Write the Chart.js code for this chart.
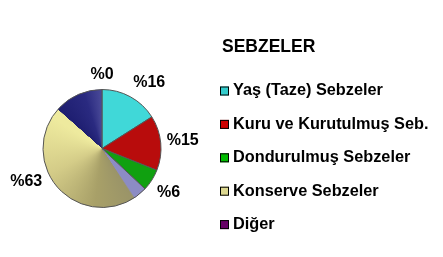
<!DOCTYPE html>
<html>
<head>
<meta charset="utf-8">
<script src="https://cdn.jsdelivr.net/npm/chart.js@4"></script>
<style>
  html, body { margin: 0; padding: 0; background: #fff; }
  #wrap { width: 443px; height: 257px; }
</style>
</head>
<body>
<div id="wrap"><canvas id="pie" width="443" height="257"></canvas></div>
<script>
// Dati
const chartTitle = 'SEBZELER';
const categories = ['Yaş (Taze) Sebzeler', 'Kuru ve Kurutulmuş Seb.', 'Dondurulmuş Sebzeler', 'Konserve Sebzeler', 'Diğer'];
const shares = [16, 15, 6, 63, 0];
const legendColors = ['#33CCCC', '#CC0000', '#00BB00', '#DDD890', '#660066'];
const sliceColors = ['#40D8D8', '#B80C0C', '#10A010', '#C8C080', '#660066'];

// konserve: sfumatura conica come nel grafico originale (blu scuro in alto a sinistra)
function sliceFill(ctx) {
    const i = ctx.dataIndex;
    const chart = ctx.chart;
    const area = chart.chartArea;
    if (i !== 3 || !area || !chart.ctx.createConicGradient) return sliceColors[i];
    const cx = (area.left + area.right) / 2;
    const cy = (area.top + area.bottom) / 2;
    const g = chart.ctx.createConicGradient(-Math.PI / 2, cx, cy);
    g.addColorStop(0.37, '#8C8CC4');
    g.addColorStop(0.405, '#8C8CC4');
    g.addColorStop(0.41, '#9A9468');
    g.addColorStop(0.52, '#A8A068');
    g.addColorStop(0.68, '#D4CC88');
    g.addColorStop(0.84, '#EEEA9E');
    g.addColorStop(0.865, '#EEEA9E');
    g.addColorStop(0.866, '#1E1E70');
    g.addColorStop(0.95, '#2A2A80');
    g.addColorStop(1, '#4A4A98');
    return g;
}

// etichette percentuali fuori dalla torta
const pctLabels = {
    id: 'pctLabels',
    afterDatasetsDraw(chart) {
        const ctx = chart.ctx;
        const meta = chart.getDatasetMeta(0);
        ctx.save();
        ctx.font = 'bold 16px "Liberation Sans", Arial, sans-serif';
        ctx.fillStyle = '#000';
        ctx.textAlign = 'center';
        ctx.textBaseline = 'middle';
        meta.data.forEach((arc, i) => {
            const text = '%' + shares[i];
            const mid = (arc.startAngle + arc.endAngle) / 2;
            const r = arc.outerRadius + 5;
            const hw = ctx.measureText(text).width / 2 + 1;
            const clamp = (v) => Math.max(-1, Math.min(1, v * 2));
            const x = arc.x + Math.cos(mid) * r + hw * clamp(Math.cos(mid));
            const y = arc.y + Math.sin(mid) * r + 10 * clamp(Math.sin(mid));
            ctx.fillText(text, x, y);
        });
        ctx.restore();
    }
};

// legenda a destra con titolo
const sideLegend = {
    id: 'sideLegend',
    afterDraw(chart) {
        const ctx = chart.ctx;
        ctx.save();
        ctx.fillStyle = '#000';
        ctx.textBaseline = 'middle';
        ctx.textAlign = 'left';
        ctx.font = 'bold 17.5px "Liberation Sans", Arial, sans-serif';
        ctx.fillText(chartTitle, 222, 47);
        ctx.font = 'bold 16.3px "Liberation Sans", Arial, sans-serif';
        categories.forEach((label, i) => {
            const y = 91 + i * 33.4;
            ctx.fillStyle = legendColors[i];
            ctx.fillRect(220, y - 4.5, 9, 9);
            ctx.strokeStyle = '#000';
            ctx.lineWidth = 1;
            ctx.strokeRect(220.5, y - 4, 8, 8);
            ctx.fillStyle = '#000';
            ctx.fillText(label, 233, y);
        });
        ctx.restore();
    }
};

const chart = new Chart(document.getElementById('pie'), {
    type: 'pie',
    data: {
        labels: categories,
        datasets: [{
            data: shares,
            backgroundColor: sliceFill,
            borderColor: '#555',
            borderWidth: 1
        }]
    },
    options: {
        responsive: false,
        animation: false,
        layout: { padding: { left: 42, right: 281, top: 89, bottom: 49 } },
        plugins: {
            legend: { display: false },
            tooltip: { enabled: false }
        }
    },
    plugins: [pctLabels, sideLegend]
});
</script>
</body>
</html>
